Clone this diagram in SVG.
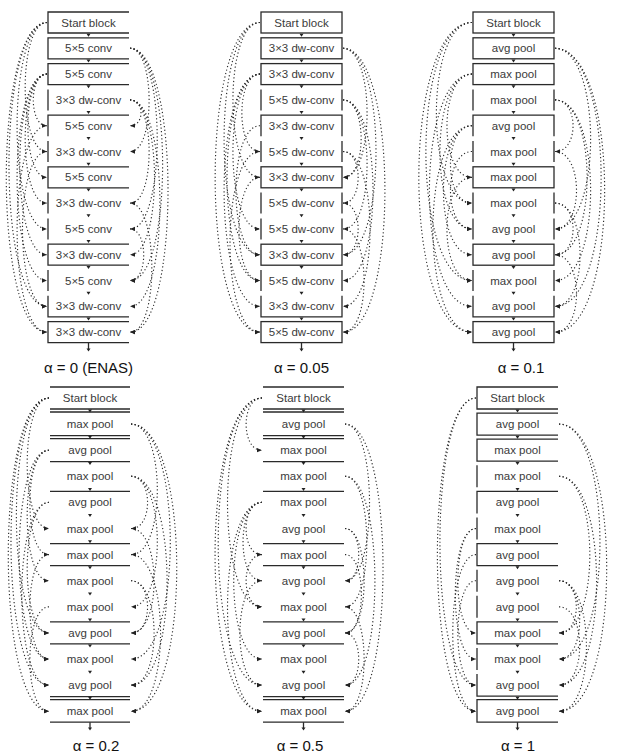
<svg xmlns="http://www.w3.org/2000/svg" width="619" height="755" viewBox="0 0 619 755">
<style>
  text { font-family: "Liberation Sans", Arial, sans-serif; }
  .lbl { font-size: 11.5px; fill: #3a3a3a; text-anchor: middle; }
  .cap { font-size: 15px; fill: #111; text-anchor: middle; }
  .edge { fill: none; stroke: #2a2a2a; stroke-width: 1.3; }
  .link { fill: none; stroke: #2b2b2b; stroke-width: 1.15; stroke-dasharray: 1.2 2.4; marker-end: url(#ah); }
  .tip { fill: #222; }
</style>
<defs>
  <marker id="ah" viewBox="0 0 6 6" refX="5.5" refY="3" markerWidth="5" markerHeight="5" markerUnits="userSpaceOnUse" orient="auto">
    <path d="M0,0.4 L6,3 L0,5.6 Z" fill="#222"/>
  </marker>
  <path id="tri" class="tip" d="M-2,0 L2,0 L0,3 Z"/>
</defs>

<!-- ===================== alpha = 0 (ENAS) ===================== -->
<g id="panel-a0" transform="translate(48,0)">
  <g id="a0-n0"><path class="edge" d="M81,12H0V33H81"/><text class="lbl" x="40.5" y="26.5">Start block</text></g>
  <g id="a0-n1"><path class="edge" d="M81,37.8H0V58.8H81"/><text class="lbl" x="40.5" y="52.3">5×5 conv</text></g>
  <g id="a0-n2"><path class="edge" d="M81,63.6H0V84.6H81"/><text class="lbl" x="40.5" y="78.1">5×5 conv</text></g>
  <g id="a0-n3"><path class="edge" d="M0,89.4V110.4"/><text class="lbl" x="40.5" y="103.9">3×3 dw-conv</text></g>
  <g id="a0-n4"><path class="edge" d="M81,115.2H0V136.2"/><text class="lbl" x="40.5" y="129.7">5×5 conv</text></g>
  <g id="a0-n5"><path class="edge" d="M0,141V162"/><text class="lbl" x="40.5" y="155.5">3×3 dw-conv</text></g>
  <g id="a0-n6"><path class="edge" d="M81,166.8H0V187.8H81"/><text class="lbl" x="40.5" y="181.3">5×5 conv</text></g>
  <g id="a0-n7"><path class="edge" d="M0,192.6V213.6"/><text class="lbl" x="40.5" y="207.1">3×3 dw-conv</text></g>
  <g id="a0-n8"><path class="edge" d="M0,218.4V239.4"/><text class="lbl" x="40.5" y="232.9">5×5 conv</text></g>
  <g id="a0-n9"><path class="edge" d="M81,244.2H0V265.2H81"/><text class="lbl" x="40.5" y="258.7">3×3 dw-conv</text></g>
  <g id="a0-n10"><path class="edge" d="M0,270V291"/><text class="lbl" x="40.5" y="284.5">5×5 conv</text></g>
  <g id="a0-n11"><path class="edge" d="M0,295.8V316.8H81"/><text class="lbl" x="40.5" y="310.3">3×3 dw-conv</text></g>
  <g id="a0-n12"><path class="edge" d="M81,321.6H0V342.6H81"/><text class="lbl" x="40.5" y="336.1">3×3 dw-conv</text></g>
  <g id="a0-flow">
    <use href="#tri" x="40.5" y="33.7"/><use href="#tri" x="40.5" y="59.5"/><use href="#tri" x="40.5" y="85.3"/>
    <use href="#tri" x="40.5" y="111.1"/><use href="#tri" x="40.5" y="136.9"/><use href="#tri" x="40.5" y="162.7"/>
    <use href="#tri" x="40.5" y="188.5"/><use href="#tri" x="40.5" y="214.3"/><use href="#tri" x="40.5" y="240.1"/>
    <use href="#tri" x="40.5" y="265.9"/><use href="#tri" x="40.5" y="291.7"/><use href="#tri" x="40.5" y="317.5"/>
    <path class="edge" d="M40.5,342.6V349"/><use href="#tri" x="40.5" y="348.5"/>
  </g>
  <g id="a0-links">
    <path class="link" d="M-1,22.5C-30,22.5 -30,151.5 -1.5,151.5"/>
    <path class="link" d="M-1,22.5C-40.8,22.5 -40.8,228.9 -1.5,228.9"/>
    <path class="link" d="M-1,22.5C-51.6,22.5 -51.6,306.3 -1.5,306.3"/>
    <path class="link" d="M-1,22.5C-55.2,22.5 -55.2,332.1 -1.5,332.1"/>
    <path class="link" d="M-1,74.1C-19.2,74.1 -19.2,125.7 -1.5,125.7"/>
    <path class="link" d="M-1,74.1C-26.4,74.1 -26.4,177.3 -1.5,177.3"/>
    <path class="link" d="M-1,74.1C-30,74.1 -30,203.1 -1.5,203.1"/>
    <path class="link" d="M-1,74.1C-37.2,74.1 -37.2,254.7 -1.5,254.7"/>
    <path class="link" d="M-1,74.1C-40.8,74.1 -40.8,280.5 -1.5,280.5"/>
    <path class="link" d="M-1,125.7C-40.8,125.7 -40.8,332.1 -1.5,332.1"/>
    <path class="link" d="M-1,151.5C-33.6,151.5 -33.6,306.3 -1.5,306.3"/>
    <path class="link" d="M82,48.3C107.4,48.3 107.4,151.5 82.5,151.5"/>
    <path class="link" d="M82,48.3C118.2,48.3 118.2,228.9 82.5,228.9"/>
    <path class="link" d="M82,48.3C125.4,48.3 125.4,280.5 82.5,280.5"/>
    <path class="link" d="M82,48.3C132.6,48.3 132.6,332.1 82.5,332.1"/>
    <path class="link" d="M82,99.9C96.6,99.9 96.6,125.7 82.5,125.7"/>
    <path class="link" d="M82,99.9C107.4,99.9 107.4,203.1 82.5,203.1"/>
    <path class="link" d="M82,99.9C114.6,99.9 114.6,254.7 82.5,254.7"/>
    <path class="link" d="M82,99.9C121.8,99.9 121.8,306.3 82.5,306.3"/>
    <path class="link" d="M82,203.1C111,203.1 111,332.1 82.5,332.1"/>
    <path class="link" d="M82,228.9C100.2,228.9 100.2,280.5 82.5,280.5"/>
  </g>
  <text class="cap" x="40.5" y="373">α = 0 (ENAS)</text>
</g>

<!-- ===================== alpha = 0.05 ===================== -->
<g id="panel-a005" transform="translate(261,0)">
  <g id="b-n0"><rect class="edge" x="0" y="12" width="81" height="21"/><text class="lbl" x="40.5" y="26.5">Start block</text></g>
  <g id="b-n1"><rect class="edge" x="0" y="37.8" width="81" height="21"/><text class="lbl" x="40.5" y="52.3">3×3 dw-conv</text></g>
  <g id="b-n2"><rect class="edge" x="0" y="63.6" width="81" height="21"/><text class="lbl" x="40.5" y="78.1">3×3 dw-conv</text></g>
  <g id="b-n3"><path class="edge" d="M0,89.4V110.4M81,89.4V110.4"/><text class="lbl" x="40.5" y="103.9">5×5 dw-conv</text></g>
  <g id="b-n4"><path class="edge" d="M81,136.2V115.2H0V136.2"/><text class="lbl" x="40.5" y="129.7">3×3 dw-conv</text></g>
  <g id="b-n5"><path class="edge" d="M0,141V162M81,141V162"/><text class="lbl" x="40.5" y="155.5">5×5 dw-conv</text></g>
  <g id="b-n6"><rect class="edge" x="0" y="166.8" width="81" height="21"/><text class="lbl" x="40.5" y="181.3">3×3 dw-conv</text></g>
  <g id="b-n7"><path class="edge" d="M0,192.6V213.6M81,192.6V213.6"/><text class="lbl" x="40.5" y="207.1">5×5 dw-conv</text></g>
  <g id="b-n8"><path class="edge" d="M0,218.4V239.4M81,218.4V239.4"/><text class="lbl" x="40.5" y="232.9">5×5 dw-conv</text></g>
  <g id="b-n9"><rect class="edge" x="0" y="244.2" width="81" height="21"/><text class="lbl" x="40.5" y="258.7">3×3 dw-conv</text></g>
  <g id="b-n10"><path class="edge" d="M0,270V291M81,270V291"/><text class="lbl" x="40.5" y="284.5">5×5 dw-conv</text></g>
  <g id="b-n11"><path class="edge" d="M0,295.8V316.8H81V295.8"/><text class="lbl" x="40.5" y="310.3">3×3 dw-conv</text></g>
  <g id="b-n12"><rect class="edge" x="0" y="321.6" width="81" height="21"/><text class="lbl" x="40.5" y="336.1">5×5 dw-conv</text></g>
  <g id="b-flow">
    <use href="#tri" x="40.5" y="33.7"/><use href="#tri" x="40.5" y="59.5"/><use href="#tri" x="40.5" y="85.3"/>
    <use href="#tri" x="40.5" y="111.1"/><use href="#tri" x="40.5" y="136.9"/><use href="#tri" x="40.5" y="162.7"/>
    <use href="#tri" x="40.5" y="188.5"/><use href="#tri" x="40.5" y="214.3"/><use href="#tri" x="40.5" y="240.1"/>
    <use href="#tri" x="40.5" y="265.9"/><use href="#tri" x="40.5" y="291.7"/><use href="#tri" x="40.5" y="317.5"/>
    <path class="edge" d="M40.5,342.6V349"/><use href="#tri" x="40.5" y="348.5"/>
  </g>
  <g id="b-links">
    <path class="link" d="M-1,22.5C-37,22.5 -37,177.3 -1.5,177.3"/>
    <path class="link" d="M-1,22.5C-48.8,22.5 -48.8,254.7 -1.5,254.7"/>
    <path class="link" d="M-1,22.5C-60.7,22.5 -60.7,332.1 -1.5,332.1"/>
    <path class="link" d="M-1,74.1C-25.1,74.1 -25.1,151.5 -1.5,151.5"/>
    <path class="link" d="M-1,74.1C-37,74.1 -37,228.9 -1.5,228.9"/>
    <path class="link" d="M-1,74.1C-44.9,74.1 -44.9,280.5 -1.5,280.5"/>
    <path class="link" d="M-1,74.1C-48.8,74.1 -48.8,306.3 -1.5,306.3"/>
    <path class="link" d="M-1,125.7C-33,125.7 -33,254.7 -1.5,254.7"/>
    <path class="link" d="M-1,151.5C-40.9,151.5 -40.9,332.1 -1.5,332.1"/>
    <path class="link" d="M-1,177.3C-29,177.3 -29,280.5 -1.5,280.5"/>
    <path class="link" d="M82,48.3C114,48.3 114,177.3 82.5,177.3"/>
    <path class="link" d="M82,48.3C125.9,48.3 125.9,254.7 82.5,254.7"/>
    <path class="link" d="M82,48.3C137.8,48.3 137.8,332.1 82.5,332.1"/>
    <path class="link" d="M82,99.9C106.1,99.9 106.1,177.3 82.5,177.3"/>
    <path class="link" d="M82,99.9C114,99.9 114,228.9 82.5,228.9"/>
    <path class="link" d="M82,99.9C121.9,99.9 121.9,280.5 82.5,280.5"/>
    <path class="link" d="M82,151.5C102.1,151.5 102.1,203.1 82.5,203.1"/>
    <path class="link" d="M82,151.5C118,151.5 118,306.3 82.5,306.3"/>
    <path class="link" d="M82,203.1C102.1,203.1 102.1,254.7 82.5,254.7"/>
    <path class="link" d="M82,228.9C110,228.9 110,332.1 82.5,332.1"/>
  </g>
  <text class="cap" x="40.5" y="373">α = 0.05</text>
</g>

<!-- ===================== alpha = 0.1 ===================== -->
<g id="panel-a01" transform="translate(473,0)">
  <g id="c-n0"><rect class="edge" x="0" y="12" width="81" height="21"/><text class="lbl" x="40.5" y="26.5">Start block</text></g>
  <g id="c-n1"><rect class="edge" x="0" y="37.8" width="81" height="21"/><text class="lbl" x="40.5" y="52.3">avg pool</text></g>
  <g id="c-n2"><rect class="edge" x="0" y="63.6" width="81" height="21"/><text class="lbl" x="40.5" y="78.1">max pool</text></g>
  <g id="c-n3"><path class="edge" d="M0,89.4V110.4M81,89.4V110.4"/><text class="lbl" x="40.5" y="103.9">max pool</text></g>
  <g id="c-n4"><path class="edge" d="M81,136.2V115.2H0V136.2"/><text class="lbl" x="40.5" y="129.7">avg pool</text></g>
  <g id="c-n5"><path class="edge" d="M0,141V162M81,141V162"/><text class="lbl" x="40.5" y="155.5">max pool</text></g>
  <g id="c-n6"><rect class="edge" x="0" y="166.8" width="81" height="21"/><text class="lbl" x="40.5" y="181.3">max pool</text></g>
  <g id="c-n7"><path class="edge" d="M0,192.6V213.6M81,192.6V213.6"/><text class="lbl" x="40.5" y="207.1">max pool</text></g>
  <g id="c-n8"><path class="edge" d="M0,218.4V239.4M81,218.4V239.4"/><text class="lbl" x="40.5" y="232.9">avg pool</text></g>
  <g id="c-n9"><rect class="edge" x="0" y="244.2" width="81" height="21"/><text class="lbl" x="40.5" y="258.7">avg pool</text></g>
  <g id="c-n10"><path class="edge" d="M0,270V291M81,270V291"/><text class="lbl" x="40.5" y="284.5">max pool</text></g>
  <g id="c-n11"><path class="edge" d="M0,295.8V316.8H81V295.8"/><text class="lbl" x="40.5" y="310.3">avg pool</text></g>
  <g id="c-n12"><rect class="edge" x="0" y="321.6" width="81" height="21"/><text class="lbl" x="40.5" y="336.1">avg pool</text></g>
  <g id="c-flow">
    <use href="#tri" x="40.5" y="33.7"/><use href="#tri" x="40.5" y="59.5"/><use href="#tri" x="40.5" y="85.3"/>
    <use href="#tri" x="40.5" y="111.1"/><use href="#tri" x="40.5" y="136.9"/><use href="#tri" x="40.5" y="162.7"/>
    <use href="#tri" x="40.5" y="188.5"/><use href="#tri" x="40.5" y="214.3"/><use href="#tri" x="40.5" y="240.1"/>
    <use href="#tri" x="40.5" y="265.9"/><use href="#tri" x="40.5" y="291.7"/><use href="#tri" x="40.5" y="317.5"/>
    <path class="edge" d="M40.5,342.6V349"/><use href="#tri" x="40.5" y="348.5"/>
  </g>
  <g id="c-links">
    <path class="link" d="M-1,22.5C-48.4,22.5 -48.4,203.1 -1.5,203.1"/>
    <path class="link" d="M-1,22.5C-62.4,22.5 -62.4,280.5 -1.5,280.5"/>
    <path class="link" d="M-1,22.5C-71.8,22.5 -71.8,332.1 -1.5,332.1"/>
    <path class="link" d="M-1,74.1C-34.3,74.1 -34.3,177.3 -1.5,177.3"/>
    <path class="link" d="M-1,74.1C-43.7,74.1 -43.7,228.9 -1.5,228.9"/>
    <path class="link" d="M-1,74.1C-57.7,74.1 -57.7,306.3 -1.5,306.3"/>
    <path class="link" d="M-1,125.7C-29.6,125.7 -29.6,203.1 -1.5,203.1"/>
    <path class="link" d="M-1,125.7C-39,125.7 -39,254.7 -1.5,254.7"/>
    <path class="link" d="M-1,125.7C-53,125.7 -53,332.1 -1.5,332.1"/>
    <path class="link" d="M-1,177.3C-34.3,177.3 -34.3,280.5 -1.5,280.5"/>
    <path class="link" d="M-1,151.5C-29.6,151.5 -29.6,228.9 -1.5,228.9"/>
    <path class="link" d="M82,48.3C129.4,48.3 129.4,228.9 82.5,228.9"/>
    <path class="link" d="M82,48.3C143.4,48.3 143.4,306.3 82.5,306.3"/>
    <path class="link" d="M82,48.3C148.1,48.3 148.1,332.1 82.5,332.1"/>
    <path class="link" d="M82,99.9C106,99.9 106,151.5 82.5,151.5"/>
    <path class="link" d="M82,99.9C124.7,99.9 124.7,254.7 82.5,254.7"/>
    <path class="link" d="M82,99.9C129.4,99.9 129.4,280.5 82.5,280.5"/>
    <path class="link" d="M82,203.1C106,203.1 106,254.7 82.5,254.7"/>
    <path class="link" d="M82,203.1C115.3,203.1 115.3,306.3 82.5,306.3"/>
    <path class="link" d="M82,254.7C110.6,254.7 110.6,332.1 82.5,332.1"/>
    <path class="link" d="M82,151.5C110.6,151.5 110.6,228.9 82.5,228.9"/>
  </g>
  <text class="cap" x="48" y="373">α = 0.1</text>
</g>

<!-- ===================== alpha = 0.2 ===================== -->
<g id="panel-a02" transform="translate(50,0)">
  <g id="d-n0"><path class="edge" d="M0,387H80M0,409H80"/><text class="lbl" x="40" y="402">Start block</text></g>
  <g id="d-n1"><path class="edge" d="M0,412H80M0,435.6H80"/><text class="lbl" x="40" y="428.1">max pool</text></g>
  <g id="d-n2"><path class="edge" d="M0,438.6H80M0,461.7H80"/><text class="lbl" x="40" y="454.2">avg pool</text></g>
  <g id="d-n3"><text class="lbl" x="40" y="480.3">max pool</text></g>
  <g id="d-n4"><path class="edge" d="M0,491.4H80"/><text class="lbl" x="40" y="506.4">avg pool</text></g>
  <g id="d-n5"><text class="lbl" x="40" y="532.5">max pool</text></g>
  <g id="d-n6"><path class="edge" d="M0,543.6H80M0,565.6H80"/><text class="lbl" x="40" y="558.6">max pool</text></g>
  <g id="d-n7"><text class="lbl" x="40" y="584.7">max pool</text></g>
  <g id="d-n8"><text class="lbl" x="40" y="610.8">max pool</text></g>
  <g id="d-n9"><path class="edge" d="M0,621.9H80M0,643.9H80"/><text class="lbl" x="40" y="636.9">avg pool</text></g>
  <g id="d-n10"><text class="lbl" x="40" y="663">max pool</text></g>
  <g id="d-n11"><path class="edge" d="M0,696.6H80"/><text class="lbl" x="40" y="689.1">avg pool</text></g>
  <g id="d-n12"><path class="edge" d="M0,699.6H80M0,722.2H80"/><text class="lbl" x="40" y="715.2">max pool</text></g>
  <g id="d-flow">
    <use href="#tri" x="40" y="409.4"/><use href="#tri" x="40" y="435.8"/><use href="#tri" x="40" y="461.9"/>
    <use href="#tri" x="40" y="488"/><use href="#tri" x="40" y="514.1"/><use href="#tri" x="40" y="540.2"/>
    <use href="#tri" x="40" y="566.3"/><use href="#tri" x="40" y="592.4"/><use href="#tri" x="40" y="618.5"/>
    <use href="#tri" x="40" y="644.6"/><use href="#tri" x="40" y="670.7"/><use href="#tri" x="40" y="696.8"/>
    <path class="edge" d="M40,722.2V728"/><use href="#tri" x="40" y="727.5"/>
  </g>
  <g id="d-links">
    <path class="link" d="M-1,398C-30,398 -30,528.5 -1.5,528.5"/>
    <path class="link" d="M-1,398C-44.4,398 -44.4,632.9 -1.5,632.9"/>
    <path class="link" d="M-1,398C-51.6,398 -51.6,685.1 -1.5,685.1"/>
    <path class="link" d="M-1,398C-55.2,398 -55.2,711.2 -1.5,711.2"/>
    <path class="link" d="M-1,450.2C-26.4,450.2 -26.4,554.6 -1.5,554.6"/>
    <path class="link" d="M-1,450.2C-30,450.2 -30,580.7 -1.5,580.7"/>
    <path class="link" d="M-1,450.2C-40.8,450.2 -40.8,659 -1.5,659"/>
    <path class="link" d="M-1,502.4C-30,502.4 -30,632.9 -1.5,632.9"/>
    <path class="link" d="M-1,502.4C-37.2,502.4 -37.2,685.1 -1.5,685.1"/>
    <path class="link" d="M-1,606.8C-26.4,606.8 -26.4,711.2 -1.5,711.2"/>
    <path class="link" d="M-1,554.6C-26.4,554.6 -26.4,659 -1.5,659"/>
    <path class="link" d="M81,424.1C116,424.1 116,554.6 81.5,554.6"/>
    <path class="link" d="M81,424.1C133.3,424.1 133.3,659 81.5,659"/>
    <path class="link" d="M81,424.1C141.9,424.1 141.9,711.2 81.5,711.2"/>
    <path class="link" d="M81,476.3C103,476.3 103,528.5 81.5,528.5"/>
    <path class="link" d="M81,476.3C116,476.3 116,606.8 81.5,606.8"/>
    <path class="link" d="M81,476.3C129,476.3 129,685.1 81.5,685.1"/>
    <path class="link" d="M81,528.5C111.7,528.5 111.7,632.9 81.5,632.9"/>
    <path class="link" d="M81,580.7C103,580.7 103,632.9 81.5,632.9"/>
    <path class="link" d="M81,580.7C111.7,580.7 111.7,685.1 81.5,685.1"/>
    <path class="link" d="M81,554.6C120.3,554.6 120.3,711.2 81.5,711.2"/>
  </g>
  <text class="cap" x="46" y="751">α = 0.2</text>
</g>

<!-- ===================== alpha = 0.5 ===================== -->
<g id="panel-a05" transform="translate(263,0)">
  <g id="e-n0"><path class="edge" d="M0,387H81M0,409H81"/><text class="lbl" x="40.5" y="402">Start block</text></g>
  <g id="e-n1"><path class="edge" d="M0,412H81M0,435.6H81"/><text class="lbl" x="40.5" y="428.1">avg pool</text></g>
  <g id="e-n2"><path class="edge" d="M0,438.6H81M0,461.7H81"/><text class="lbl" x="40.5" y="454.2">max pool</text></g>
  <g id="e-n3"><text class="lbl" x="40.5" y="480.3">max pool</text></g>
  <g id="e-n4"><path class="edge" d="M0,491.4H81"/><text class="lbl" x="40.5" y="506.4">max pool</text></g>
  <g id="e-n5"><text class="lbl" x="40.5" y="532.5">avg pool</text></g>
  <g id="e-n6"><path class="edge" d="M0,543.6H81M0,565.6H81"/><text class="lbl" x="40.5" y="558.6">max pool</text></g>
  <g id="e-n7"><text class="lbl" x="40.5" y="584.7">avg pool</text></g>
  <g id="e-n8"><text class="lbl" x="40.5" y="610.8">max pool</text></g>
  <g id="e-n9"><path class="edge" d="M0,621.9H81M0,643.9H81"/><text class="lbl" x="40.5" y="636.9">avg pool</text></g>
  <g id="e-n10"><text class="lbl" x="40.5" y="663">max pool</text></g>
  <g id="e-n11"><path class="edge" d="M0,696.6H81"/><text class="lbl" x="40.5" y="689.1">avg pool</text></g>
  <g id="e-n12"><path class="edge" d="M0,699.6H81M0,722.2H81"/><text class="lbl" x="40.5" y="715.2">max pool</text></g>
  <g id="e-flow">
    <use href="#tri" x="40.5" y="409.4"/><use href="#tri" x="40.5" y="435.8"/><use href="#tri" x="40.5" y="461.9"/>
    <use href="#tri" x="40.5" y="488"/><use href="#tri" x="40.5" y="514.1"/><use href="#tri" x="40.5" y="540.2"/>
    <use href="#tri" x="40.5" y="566.3"/><use href="#tri" x="40.5" y="592.4"/><use href="#tri" x="40.5" y="618.5"/>
    <use href="#tri" x="40.5" y="644.6"/><use href="#tri" x="40.5" y="670.7"/><use href="#tri" x="40.5" y="696.8"/>
    <path class="edge" d="M40.5,722.2V728"/><use href="#tri" x="40.5" y="727.5"/>
  </g>
  <g id="e-links">
    <path class="link" d="M-1,398C-22.1,398 -22.1,450.2 -1.5,450.2"/>
    <path class="link" d="M-1,398C-46.9,398 -46.9,606.8 -1.5,606.8"/>
    <path class="link" d="M-1,398C-59.3,398 -59.3,685.1 -1.5,685.1"/>
    <path class="link" d="M-1,398C-63.5,398 -63.5,711.2 -1.5,711.2"/>
    <path class="link" d="M-1,502.4C-22.1,502.4 -22.1,554.6 -1.5,554.6"/>
    <path class="link" d="M-1,502.4C-26.2,502.4 -26.2,580.7 -1.5,580.7"/>
    <path class="link" d="M-1,502.4C-38.6,502.4 -38.6,659 -1.5,659"/>
    <path class="link" d="M-1,502.4C-46.9,502.4 -46.9,711.2 -1.5,711.2"/>
    <path class="link" d="M-1,554.6C-22.1,554.6 -22.1,606.8 -1.5,606.8"/>
    <path class="link" d="M-1,580.7C-30.4,580.7 -30.4,685.1 -1.5,685.1"/>
    <path class="link" d="M82,424.1C114.6,424.1 114.6,580.7 82.5,580.7"/>
    <path class="link" d="M82,424.1C132.6,424.1 132.6,711.2 82.5,711.2"/>
    <path class="link" d="M82,476.3C111,476.3 111,606.8 82.5,606.8"/>
    <path class="link" d="M82,476.3C121.8,476.3 121.8,685.1 82.5,685.1"/>
    <path class="link" d="M82,528.5C100.2,528.5 100.2,580.7 82.5,580.7"/>
    <path class="link" d="M82,528.5C107.4,528.5 107.4,632.9 82.5,632.9"/>
    <path class="link" d="M82,606.8C107.4,606.8 107.4,711.2 82.5,711.2"/>
    <path class="link" d="M82,632.9C100.2,632.9 100.2,685.1 82.5,685.1"/>
    <path class="link" d="M82,554.6C103.8,554.6 103.8,632.9 82.5,632.9"/>
  </g>
  <text class="cap" x="37" y="751">α = 0.5</text>
</g>

<!-- ===================== alpha = 1 ===================== -->
<g id="panel-a1" transform="translate(477,0)">
  <g id="f-n0"><path class="edge" d="M81,387H0V409H81"/><text class="lbl" x="40.5" y="402">Start block</text></g>
  <g id="f-n1"><path class="edge" d="M81,413.1H0V435.1H81"/><text class="lbl" x="40.5" y="428.1">avg pool</text></g>
  <g id="f-n2"><path class="edge" d="M81,439.2H0V461.2H81"/><text class="lbl" x="40.5" y="454.2">max pool</text></g>
  <g id="f-n3"><path class="edge" d="M0,465.3V487.3"/><text class="lbl" x="40.5" y="480.3">max pool</text></g>
  <g id="f-n4"><path class="edge" d="M81,491.4H0V513.4"/><text class="lbl" x="40.5" y="506.4">avg pool</text></g>
  <g id="f-n5"><path class="edge" d="M0,517.5V539.5"/><text class="lbl" x="40.5" y="532.5">max pool</text></g>
  <g id="f-n6"><path class="edge" d="M81,543.6H0V565.6H81"/><text class="lbl" x="40.5" y="558.6">avg pool</text></g>
  <g id="f-n7"><path class="edge" d="M0,569.7V591.7"/><text class="lbl" x="40.5" y="584.7">avg pool</text></g>
  <g id="f-n8"><path class="edge" d="M0,595.8V617.8"/><text class="lbl" x="40.5" y="610.8">avg pool</text></g>
  <g id="f-n9"><path class="edge" d="M81,621.9H0V643.9H81"/><text class="lbl" x="40.5" y="636.9">max pool</text></g>
  <g id="f-n10"><path class="edge" d="M0,648V670"/><text class="lbl" x="40.5" y="663">max pool</text></g>
  <g id="f-n11"><path class="edge" d="M0,674.1V696.1H81"/><text class="lbl" x="40.5" y="689.1">avg pool</text></g>
  <g id="f-n12"><path class="edge" d="M81,699.6H0V722.2H81"/><text class="lbl" x="40.5" y="715.2">avg pool</text></g>
  <g id="f-flow">
    <use href="#tri" x="40.5" y="409.4"/><use href="#tri" x="40.5" y="435.8"/><use href="#tri" x="40.5" y="461.9"/>
    <use href="#tri" x="40.5" y="488"/><use href="#tri" x="40.5" y="514.1"/><use href="#tri" x="40.5" y="540.2"/>
    <use href="#tri" x="40.5" y="566.3"/><use href="#tri" x="40.5" y="592.4"/><use href="#tri" x="40.5" y="618.5"/>
    <use href="#tri" x="40.5" y="644.6"/><use href="#tri" x="40.5" y="670.7"/><use href="#tri" x="40.5" y="696.8"/>
    <path class="edge" d="M40.5,722.2V728"/><use href="#tri" x="40.5" y="727.5"/>
  </g>
  <g id="f-links">
    <path class="link" d="M-1,398C-49,398 -49,685.1 -1.5,685.1"/>
    <path class="link" d="M-1,398C-52.4,398 -52.4,711.2 -1.5,711.2"/>
    <path class="link" d="M-1,528.5C-25.1,528.5 -25.1,632.9 -1.5,632.9"/>
    <path class="link" d="M-1,528.5C-28.5,528.5 -28.5,659 -1.5,659"/>
    <path class="link" d="M-1,554.6C-31.9,554.6 -31.9,711.2 -1.5,711.2"/>
    <path class="link" d="M-1,580.7C-25.1,580.7 -25.1,685.1 -1.5,685.1"/>
    <path class="link" d="M82,424.1C136.5,424.1 136.5,659 82.5,659"/>
    <path class="link" d="M82,424.1C145.5,424.1 145.5,711.2 82.5,711.2"/>
    <path class="link" d="M82,476.3C123,476.3 123,632.9 82.5,632.9"/>
    <path class="link" d="M82,476.3C132,476.3 132,685.1 82.5,685.1"/>
    <path class="link" d="M82,580.7C105,580.7 105,632.9 82.5,632.9"/>
    <path class="link" d="M82,580.7C109.5,580.7 109.5,659 82.5,659"/>
    <path class="link" d="M82,580.7C118.5,580.7 118.5,711.2 82.5,711.2"/>
    <path class="link" d="M82,606.8C109.5,606.8 109.5,685.1 82.5,685.1"/>
  </g>
  <text class="cap" x="41" y="751">α = 1</text>
</g>
</svg>
